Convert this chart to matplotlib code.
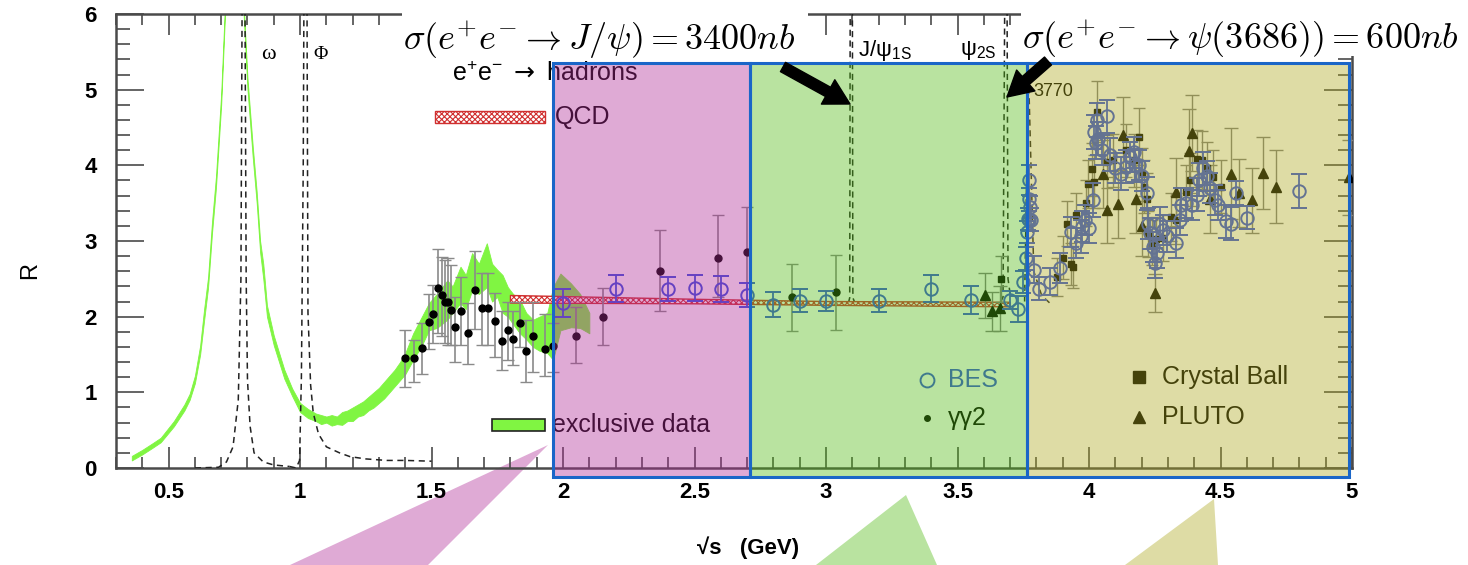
import matplotlib.pyplot as plt
import numpy as np
from matplotlib.patches import Rectangle, Polygon, FancyArrowPatch

# ---- exclusive data band (green) ----
band_x = [0.36, 0.40, 0.44, 0.47, 0.52, 0.56, 0.58, 0.60, 0.62, 0.635, 0.65, 0.665, 0.68, 0.70,
          0.714, 0.73, 0.77, 0.786, 0.80, 0.82, 0.835, 0.848, 0.86, 0.874, 0.90, 0.94, 0.97,
          1.00, 1.03, 1.06, 1.08, 1.10, 1.12, 1.14, 1.16, 1.18, 1.20, 1.22, 1.24, 1.26, 1.28,
          1.30, 1.32, 1.34, 1.36, 1.38, 1.40, 1.43, 1.46, 1.49, 1.52, 1.56, 1.58, 1.61, 1.63,
          1.654, 1.68, 1.71, 1.73, 1.75, 1.77, 1.79, 1.81, 1.836, 1.86, 1.886, 1.91, 1.94,
          1.962, 1.99, 2.03, 2.065, 2.10]
band_lo = [0.10, 0.18, 0.27, 0.34, 0.55, 0.76, 0.90, 1.12, 1.50, 1.95, 2.38, 3.10, 3.70, 4.80,
           5.95, 7.0, 7.0, 5.95, 5.00, 4.10, 3.50, 2.85, 2.50, 2.00, 1.62, 1.18, 0.95,
           0.74, 0.66, 0.62, 0.58, 0.60, 0.56, 0.58, 0.57, 0.62, 0.62, 0.68, 0.70, 0.76, 0.80,
           0.86, 0.92, 1.00, 1.08, 1.16, 1.24, 1.43, 1.60, 1.82, 1.85, 1.96, 2.05, 2.18, 2.10,
           2.35, 2.30, 2.39, 2.20, 2.26, 2.05, 2.00, 1.90, 1.78, 1.70, 1.60, 1.55, 1.52,
           1.43, 1.82, 1.86, 1.85, 1.78]
band_hi = [0.16, 0.24, 0.33, 0.40, 0.62, 0.84, 0.98, 1.22, 1.62, 2.10, 2.52, 3.25, 3.85, 4.95,
           6.10, 7.0, 7.0, 6.10, 5.15, 4.25, 3.65, 3.00, 2.70, 2.15, 1.75, 1.30, 1.05,
           0.86, 0.78, 0.72, 0.70, 0.68, 0.70, 0.68, 0.74, 0.76, 0.80, 0.84, 0.88, 0.94, 1.00,
           1.06, 1.14, 1.22, 1.30, 1.40, 1.52, 1.78, 1.98, 2.18, 2.30, 2.48, 2.40, 2.66, 2.55,
           2.84, 2.70, 2.97, 2.70, 2.62, 2.55, 2.39, 2.30, 2.22, 2.05, 1.96, 2.00, 2.05,
           2.39, 2.57, 2.44, 2.30, 2.05]

# ---- resonance line shapes (dashed) ----
omega_x = [0.60, 0.69, 0.72, 0.745, 0.765, 0.775, 0.780, 0.790, 0.795, 0.80, 0.81, 0.825, 0.86, 0.90, 0.96]
omega_y = [0.0, 0.01, 0.08, 0.28, 0.90, 2.50, 6.5, 6.5, 2.50, 1.16, 0.55, 0.20, 0.08, 0.04, 0.02]
phi_x = [0.96, 0.985, 0.998, 1.005, 1.012, 1.015, 1.026, 1.03, 1.04, 1.05, 1.07, 1.10, 1.15, 1.19, 1.25, 1.33, 1.40, 1.50]
phi_y = [0.02, 0.0, 0.10, 1.20, 4.00, 6.5, 6.5, 2.05, 1.10, 0.73, 0.45, 0.28, 0.20, 0.15, 0.12, 0.10, 0.10, 0.09]
jpsi_x = [3.085, 3.090, 3.092, 3.100, 3.102, 3.110]
jpsi_y = [2.18, 2.25, 6.5, 6.5, 2.25, 2.18]
psi2s_x = [3.665, 3.673, 3.680, 3.688, 3.692, 3.700]
psi2s_y = [2.20, 2.26, 6.5, 6.5, 2.50, 2.30]
psi3770_x = [3.755, 3.768, 3.772, 3.790, 3.820, 3.860]
psi3770_y = [2.20, 4.95, 4.95, 2.60, 2.28, 2.15]

# ---- QCD band ----
qcd_x = [1.80, 2.50, 3.00, 3.70]
qcd_lo = [2.18, 2.17, 2.15, 2.13]
qcd_hi = [2.28, 2.23, 2.20, 2.19]

# ---- gamma gamma 2 (dots) ----
gg_x = [1.40, 1.435, 1.464, 1.49, 1.506, 1.524, 1.54, 1.55, 1.563, 1.575, 1.59, 1.61, 1.64, 1.665,
        1.69, 1.714, 1.74, 1.768, 1.79, 1.81, 1.835, 1.86, 1.887, 1.932, 1.96, 2.05, 2.15, 2.37,
        2.59, 2.70, 2.87, 3.037]
gg_y = [1.46, 1.46, 1.58, 1.93, 2.03, 2.38, 2.29, 2.20, 2.20, 2.09, 1.86, 2.08, 1.78, 2.35,
        2.11, 2.11, 1.94, 1.68, 1.82, 1.70, 1.91, 1.55, 1.74, 1.57, 1.61, 1.75, 2.00, 2.61,
        2.77, 2.85, 2.26, 2.32]
gg_top = [1.83, 1.69, 1.91, 2.30, 2.42, 2.90, 2.79, 2.75, 2.77, 2.68, 2.26, 2.53, 2.18, 2.87,
          2.58, 2.58, 2.31, 2.07, 2.20, 2.07, 2.20, 1.96, 2.20, 2.04, 1.91, 2.13, 2.38, 3.15,
          3.34, 3.45, 2.70, 2.81]
gg_bot = [1.07, 1.14, 1.24, 1.57, 1.65, 1.78, 1.74, 1.65, 1.63, 1.62, 1.40, 1.63, 1.38, 1.84,
          1.62, 1.62, 1.47, 1.29, 1.43, 1.36, 1.60, 1.14, 1.27, 1.22, 1.27, 1.39, 1.62, 2.07,
          2.26, 2.22, 1.81, 1.82]

# ---- BES (open circles) ----
bes_x = [2.00, 2.20, 2.40, 2.50, 2.60, 2.70, 2.80, 2.90, 3.00, 3.20, 3.40, 3.55, 3.70, 3.73,
         3.75, 3.76, 3.765, 3.77, 3.775, 3.772, 3.770, 3.768, 3.778, 3.79, 3.81, 3.85, 3.89,
         3.93, 3.95, 3.97, 3.975, 3.985, 4.00, 4.015, 4.02, 4.03, 4.035, 4.07, 4.025, 4.05,
         4.08, 4.10, 4.12, 4.14, 4.155, 4.17, 4.175, 4.19, 4.20, 4.22, 4.225, 4.23, 4.245,
         4.25, 4.26, 4.27, 4.28, 4.295, 4.33, 4.345, 4.35, 4.37, 4.39, 4.41, 4.42, 4.435,
         4.45, 4.46, 4.48, 4.49, 4.52, 4.54, 4.56, 4.60, 4.80]
bes_y = [2.18, 2.37, 2.37, 2.38, 2.37, 2.29, 2.16, 2.21, 2.21, 2.21, 2.37, 2.22, 2.22, 2.10,
         2.46, 2.77, 3.12, 3.28, 3.45, 3.81, 3.55, 3.29, 3.28, 2.62, 2.37, 2.46, 2.64,
         3.12, 2.97, 3.06, 3.19, 3.28, 3.17, 3.54, 4.44, 4.60, 4.35, 4.65, 4.30, 4.20,
         4.14, 3.96, 3.89, 3.98, 4.11, 4.17, 4.00, 4.00, 3.86, 3.63, 3.23, 3.10, 2.92,
         2.71, 2.84, 3.23, 3.15, 3.06, 2.97, 3.28, 3.48, 3.50, 3.48, 3.61, 3.81, 3.96,
         3.86, 3.70, 3.54, 3.48, 3.26, 3.23, 3.63, 3.31, 3.66]
bes_err = [0.19, 0.18, 0.16, 0.17, 0.17, 0.16, 0.16, 0.15, 0.13, 0.15, 0.18, 0.18, 0.12, 0.17,
           0.15, 0.15, 0.15, 0.15, 0.15, 0.20, 0.15, 0.15, 0.15, 0.18, 0.15, 0.18, 0.20,
           0.20, 0.20, 0.22, 0.20, 0.20, 0.20, 0.22, 0.22, 0.22, 0.22, 0.22, 0.22, 0.20,
           0.22, 0.20, 0.22, 0.22, 0.20, 0.20, 0.22, 0.20, 0.20, 0.22, 0.20, 0.20, 0.20,
           0.20, 0.20, 0.22, 0.20, 0.20, 0.20, 0.20, 0.22, 0.20, 0.20, 0.22, 0.22, 0.22,
           0.20, 0.20, 0.20, 0.20, 0.22, 0.22, 0.16, 0.15, 0.22]

# ---- Crystal Ball (squares) ----
cb_x = [3.665, 3.88, 3.90, 3.915, 3.93, 3.94, 3.95, 3.99, 3.995, 4.01, 4.02, 4.03, 4.07, 4.09,
        4.14, 4.17, 4.19, 4.20, 4.21, 4.22, 4.225, 4.24, 4.255, 4.28, 4.31, 4.33, 4.37, 4.385,
        4.41, 4.43, 4.45, 4.47, 4.50]
cb_y = [2.50, 2.52, 2.78, 3.23, 2.70, 2.66, 3.34, 3.50, 3.75, 3.95, 3.78, 4.71, 4.05, 4.07,
        4.20, 4.07, 4.38, 3.88, 3.72, 3.55, 3.09, 2.98, 3.02, 3.04, 3.32, 3.28, 3.65, 3.81,
        4.09, 4.07, 3.96, 3.85, 3.72]
cb_err = [0.30, 0.25, 0.28, 0.30, 0.28, 0.28, 0.30, 0.30, 0.32, 0.35, 0.35, 0.40, 0.35, 0.35,
          0.35, 0.35, 0.38, 0.35, 0.35, 0.35, 0.30, 0.30, 0.30, 0.30, 0.32, 0.32, 0.35, 0.35,
          0.38, 0.38, 0.35, 0.35, 0.35]

# ---- PLUTO (triangles) ----
pl_x = [3.605, 3.63, 3.66, 4.055, 4.07, 4.11, 4.13, 4.18, 4.20, 4.25, 4.33, 4.38, 4.39, 4.46,
        4.54, 4.57, 4.62, 4.66, 4.71, 4.99]
pl_y = [2.28, 2.07, 2.11, 3.88, 3.41, 3.49, 4.40, 3.56, 3.20, 2.31, 3.65, 4.19, 4.43, 3.55,
        3.89, 3.64, 3.54, 3.90, 3.72, 3.84]
pl_err = [0.30, 0.26, 0.30, 0.45, 0.43, 0.45, 0.50, 0.45, 0.40, 0.25, 0.45, 0.55, 0.50, 0.45,
          0.60, 0.45, 0.43, 0.48, 0.48, 0.50]

W, H = 1468, 565
plt.rcParams['font.family'] = ['Liberation Sans', 'DejaVu Sans']
plt.rcParams['hatch.linewidth'] = 0.8
LEG = 18  # legend-ish text size

fig = plt.figure(figsize=(W / 100, H / 100), dpi=100)
ax = fig.add_axes([116 / W, 97 / H, 1236 / W, 454 / H])
ax.set_facecolor('none')
ax.set_xlim(0.3, 5.0)
ax.set_ylim(0, 6)

# green band
ax.fill_between(band_x, band_lo, band_hi, color='#80f542', lw=0.6, zorder=2)

# resonances
for rx, ry in [(omega_x, omega_y), (phi_x, phi_y), (jpsi_x, jpsi_y),
               (psi2s_x, psi2s_y), (psi3770_x, psi3770_y)]:
    ax.plot(rx, ry, ls=(0, (4, 3)), color='#222222', lw=1.1, zorder=3)

# QCD
ax.fill_between(qcd_x, qcd_lo, qcd_hi, facecolor='white', edgecolor='#d03030',
                hatch='xxxxxx', lw=1.0, zorder=4)

# data
gg_x_a, gg_y_a = np.array(gg_x), np.array(gg_y)
ax.errorbar(gg_x_a, gg_y_a, yerr=[gg_y_a - np.array(gg_bot), np.array(gg_top) - gg_y_a],
            fmt='o', ms=5, color='black', ecolor='#8a8a8a', elinewidth=1.2, capsize=4, zorder=5)
ax.errorbar(cb_x, cb_y, yerr=cb_err, fmt='s', ms=5, color='black', ecolor='#808080',
            elinewidth=1.0, capsize=4, zorder=5)
ax.errorbar(pl_x, pl_y, yerr=pl_err, fmt='^', ms=7, color='black', ecolor='#808080',
            elinewidth=1.0, capsize=5, zorder=5)
ax.errorbar(bes_x, bes_y, yerr=bes_err, fmt='o', ms=9, mfc='none', mec='#3450e0', mew=1.4,
            ecolor='#3450e0', elinewidth=1.3, capsize=6, zorder=6)

# labels inside plot
ax.text(0.85, 5.46, 'ω', fontsize=16, family=['Liberation Serif', 'DejaVu Serif'], va='center', zorder=7)
ax.text(1.05, 5.46, 'Φ', fontsize=14, family=['Liberation Serif', 'DejaVu Serif'], va='center', zorder=7)
ax.text(3.12, 5.52, r'J/ψ$_{\mathregular{1S}}$', fontsize=16, va='center', zorder=7)
ax.text(3.51, 5.52, r'ψ$_{\mathregular{2S}}$', fontsize=16, va='center', zorder=7)
ax.text(3.79, 4.97, '3770', fontsize=13, va='center', zorder=7)

ax.text(1.578, 5.21, r'e$^{\mathregular{+}}$e$^{\mathregular{-}}$ $\rightarrow$ hadrons', fontsize=LEG,
        va='center', zorder=7)
ax.add_patch(Rectangle((1.513, 4.56), 0.417, 0.16, facecolor='white', edgecolor='#d03030',
                       hatch='xxxxxx', lw=1.0, zorder=7))
ax.text(1.97, 4.64, 'QCD', fontsize=LEG, va='center', zorder=7)
ax.add_patch(Rectangle((1.73, 0.49), 0.2, 0.16, facecolor='#80f542', edgecolor='#222222',
                       lw=1.2, zorder=7))
ax.text(1.958, 0.57, 'exclusive data', fontsize=LEG, va='center', zorder=7)
ax.plot([3.384], [1.16], 'o', ms=10, mfc='none', mec='#3450e0', mew=1.4, zorder=7)
ax.text(3.464, 1.16, 'BES', fontsize=LEG, color='#3450e0', va='center', zorder=7)
ax.plot([3.384], [0.66], 'o', ms=4, color='black', zorder=7)
ax.text(3.464, 0.66, 'γγ2', fontsize=LEG, va='center', zorder=7)
ax.plot([4.19], [1.20], 's', ms=8, color='black', zorder=7)
ax.text(4.278, 1.20, 'Crystal Ball', fontsize=LEG, va='center', zorder=7)
ax.plot([4.19], [0.67], '^', ms=9, color='black', zorder=7)
ax.text(4.278, 0.67, 'PLUTO', fontsize=LEG, va='center', zorder=7)

# overlays
for x0, x1, c in [(1.962, 2.711, '#af2b96'), (2.711, 3.764, '#50b912'), (3.764, 4.99, '#ada81e')]:
    ax.add_patch(Rectangle((x0, -0.115), x1 - x0, 5.465, facecolor=c, alpha=0.4,
                           edgecolor='none', clip_on=False, zorder=10))
    ax.add_patch(Rectangle((x0, -0.115), x1 - x0, 5.465, facecolor='none',
                           edgecolor='#1a66c8', lw=2.2, clip_on=False, zorder=11))

# axes styling
for s in ax.spines.values():
    s.set_color('#4a4a4a')
    s.set_linewidth(1.8)
ax.set_xticks(np.arange(0.5, 5.01, 0.5))
ax.set_xticks(np.arange(0.3, 5.01, 0.1), minor=True)
ax.set_yticks(np.arange(0, 6.1, 1))
ax.set_yticks(np.arange(0, 6.01, 0.2), minor=True)
ax.xaxis.set_major_formatter(plt.FuncFormatter(lambda v, p: f'{v:g}'))
ax.tick_params(which='both', direction='in', top=True, right=True, color='#4a4a4a', width=1.2)
ax.tick_params(axis='x', which='major', length=15, pad=10, labelsize=16)
ax.tick_params(axis='x', which='minor', length=8)
ax.tick_params(axis='y', which='major', length=20, pad=14, labelsize=16)
ax.tick_params(axis='y', which='minor', length=10)
for lab in ax.get_xticklabels() + ax.get_yticklabels():
    lab.set_fontweight('bold')

fig.text(30 / W, 1 - 270 / H, 'R', fontsize=17, rotation=90, ha='center', va='center')
fig.text(748 / W, 1 - 548 / H, '√s   (GeV)', fontsize=16, fontweight='bold', ha='center', va='center')

# triangles below
for pts, c in [([(548, 120), (290, 0), (428, 0)], '#dfaad5'),
               ([(906, 70), (816, 0), (937, 0)], '#b9e3a0'),
               ([(1214, 66), (1125, 0), (1218, 0)], '#dedca5')]:
    fig.add_artist(Polygon([(px / W, py / H) for px, py in pts], closed=True,
                           transform=fig.transFigure, facecolor=c, edgecolor='none', zorder=-1))

# white boxes + cross sections
fig.add_artist(Rectangle((402 / W, 1 - 58 / H), 406 / W, 58 / H, transform=fig.transFigure,
                         facecolor='white', edgecolor='none', zorder=5))
fig.add_artist(Rectangle((1021 / W, 1 - 56 / H), 447 / W, 56 / H, transform=fig.transFigure,
                         facecolor='white', edgecolor='none', zorder=5))
fig.text(403 / W, 1 - 40 / H, r'$\sigma(e^{+}e^{-}\rightarrow J/\psi)=3400nb$', fontsize=26,
         math_fontfamily='cm', ha='left', va='center', zorder=6)
fig.text(1022 / W, 1 - 39 / H, r'$\sigma(e^{+}e^{-}\rightarrow \psi(3686))=600nb$', fontsize=26,
         math_fontfamily='cm', ha='left', va='center', zorder=6)

for a, b in [((783, 498), (850, 461)), ((1048, 504), (1007, 468))]:
    fig.add_artist(FancyArrowPatch((a[0] / W, a[1] / H), (b[0] / W, b[1] / H),
                                   transform=fig.transFigure,
                                   arrowstyle='simple,head_width=1.0,head_length=0.9,tail_width=0.38',
                                   mutation_scale=20, color='black', shrinkA=0, shrinkB=0, zorder=7))

fig.savefig('out.png', dpi=100)
